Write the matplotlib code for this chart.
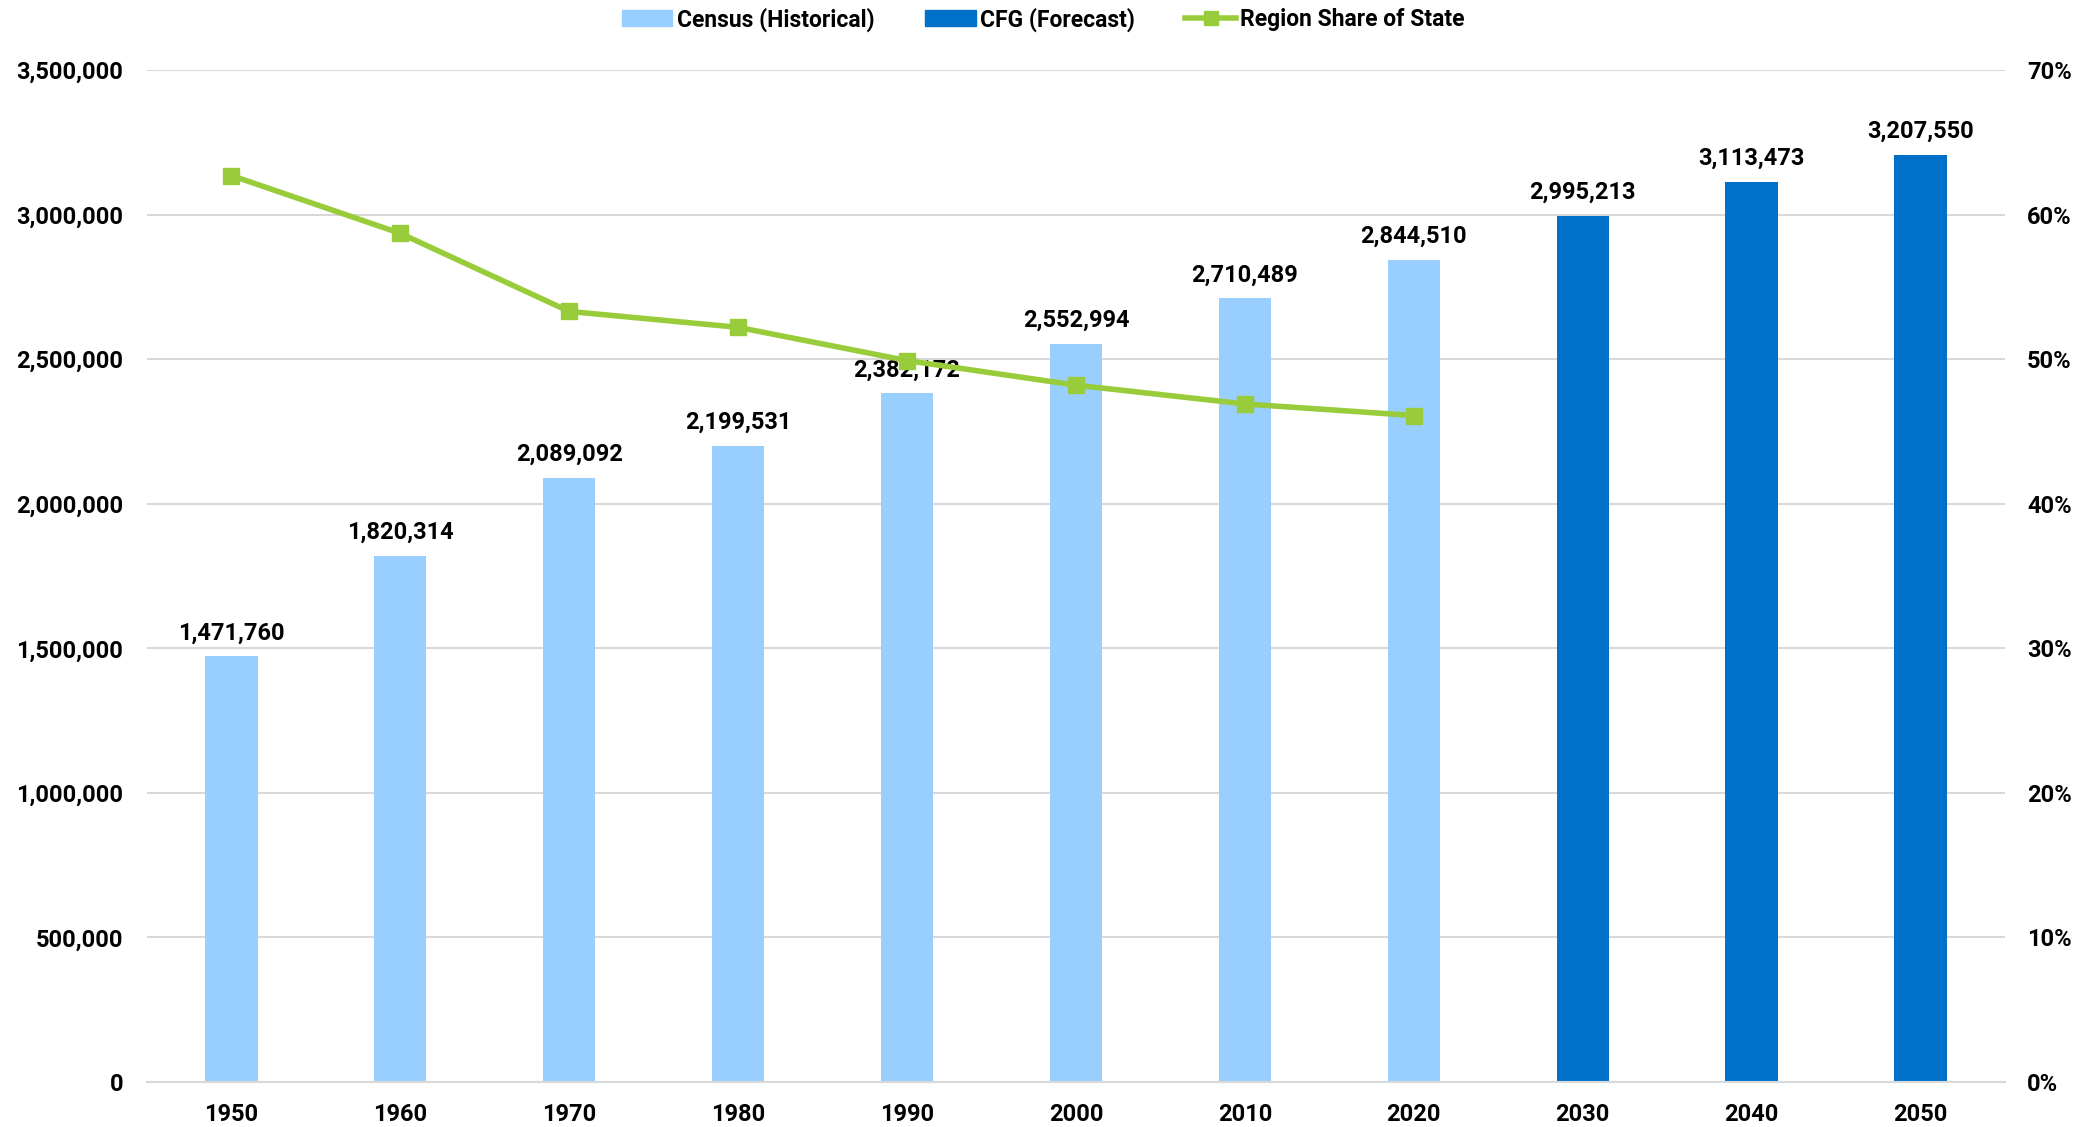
import matplotlib
matplotlib.use("Agg")
import matplotlib.pyplot as plt
from matplotlib.ticker import FuncFormatter, MultipleLocator
from matplotlib.lines import Line2D
from matplotlib.patches import Patch

plt.rcParams['font.family'] = ['Roboto', 'DejaVu Sans']

years = ["1950", "1960", "1970", "1980", "1990", "2000", "2010", "2020", "2030", "2040", "2050"]
census = [1471760, 1820314, 2089092, 2199531, 2382172, 2552994, 2710489, 2844510]
forecast = [2995213, 3113473, 3207550]
share = [62.7, 58.7, 53.3, 52.2, 49.9, 48.2, 46.9, 46.1]

c_light = "#99CFFF"
c_dark = "#0070C8"
c_line = "#99CC3A"
grid_c = "#D9D9D9"

fig = plt.figure(figsize=(20.87, 11.27), dpi=100)
ax = fig.add_axes([0.0704, 0.0399, 0.8903, 0.898])
ax2 = ax.twinx()

x_hist = list(range(len(census)))
x_fc = list(range(len(census), len(years)))
w = 0.31
ax.bar(x_hist, census, width=w, color=c_light, zorder=2)
ax.bar(x_fc, forecast, width=w, color=c_dark, zorder=2)

for xi, v in zip(x_hist + x_fc, census + forecast):
    ax.annotate(f"{v:,}", (xi, v), xytext=(0, 8.5), textcoords="offset points",
                ha="center", va="bottom", fontsize=17, fontweight="bold", color="#000000", zorder=5)

ax.set_ylim(0, 3500000)
ax.set_xlim(-0.5, len(years) - 0.5)
ax.yaxis.set_major_locator(MultipleLocator(500000))
ax.yaxis.set_major_formatter(FuncFormatter(lambda v, p: f"{int(v):,}"))
ax.set_xticks(range(len(years)))
ax.set_xticklabels(years)
ax.grid(axis="y", color=grid_c, linewidth=1.5, zorder=0)
ax.set_axisbelow(True)
for s in ["top", "right", "left"]:
    ax.spines[s].set_visible(False)
ax.spines["bottom"].set_color(grid_c)
ax.spines["bottom"].set_linewidth(1.5)
ax.tick_params(axis="both", length=0, labelsize=17)
ax.tick_params(axis="y", pad=17)
ax.tick_params(axis="x", pad=15)
for lab in ax.get_xticklabels() + ax.get_yticklabels():
    lab.set_fontweight("bold")

ax2.plot(x_hist, share, color=c_line, linewidth=4, marker="s", markersize=12, zorder=4)
ax2.set_ylim(0, 70)
ax2.yaxis.set_major_locator(MultipleLocator(10))
ax2.yaxis.set_major_formatter(FuncFormatter(lambda v, p: f"{int(v)}%"))
for s in ["top", "right", "left", "bottom"]:
    ax2.spines[s].set_visible(False)
ax2.tick_params(axis="y", length=0, labelsize=17, pad=16)
for lab in ax2.get_yticklabels():
    lab.set_fontweight("bold")

handles = [Patch(color=c_light, label="Census (Historical)"),
           Patch(color=c_dark, label="CFG (Forecast)"),
           Line2D([0], [0], color=c_line, linewidth=4, marker="s", markersize=10, label="Region Share of State")]
fig.legend(handles=handles, loc="upper center", bbox_to_anchor=(0.5, 1.012), ncol=3, frameon=False,
           prop={"size": 16.5, "weight": "bold"}, handlelength=2.2, handletextpad=0.2, columnspacing=2.2)

fig.savefig("out.png", dpi=100)
